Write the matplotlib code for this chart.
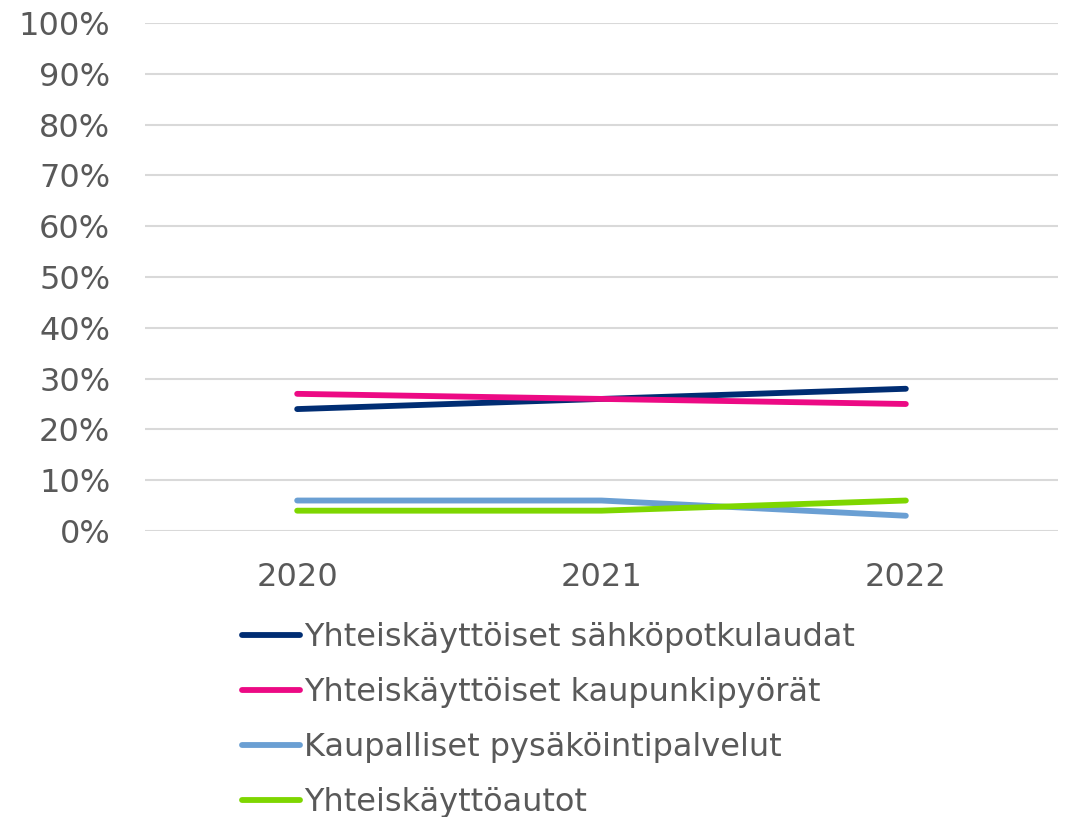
import matplotlib.pyplot as plt
import numpy as np

vuodet = ['2020', '2021', '2022']
sarjat = ['Yhteiskäyttöiset sähköpotkulaudat',
          'Yhteiskäyttöiset kaupunkipyörät',
          'Kaupalliset pysäköintipalvelut',
          'Yhteiskäyttöautot']
potkulaudat = [24, 26, 28]
kaupunkipyorat = [27, 26, 25]
pysakointi = [6, 6, 3]
autot = [4, 4, 6]
varit = ['#002d73', '#ec0a84', '#6a9fd3', '#7ed600']

plt.rcParams['font.family'] = ['DejaVu Sans']
harmaa = '#595959'

fig = plt.figure(figsize=(10.69, 8.17), dpi=100)
ax = fig.add_axes([145/1069, (817-531)/817, (1058-145)/1069, (531-23)/817])

x = np.arange(len(vuodet))
for arvot, nimi, vari in zip([potkulaudat, kaupunkipyorat, pysakointi, autot], sarjat, varit):
    ax.plot(x, np.array(arvot) / 100, color=vari, linewidth=4.2,
            solid_capstyle='round', label=nimi)

ax.set_xlim(-0.5, 2.5)
ax.set_ylim(0, 1)
ax.set_yticks(np.arange(0, 1.01, 0.1))
ax.set_yticklabels([f'{int(round(v*100))}%' for v in np.arange(0, 1.01, 0.1)])
ax.set_xticks(x)
ax.set_xticklabels(vuodet)
ax.tick_params(axis='both', length=0, labelsize=23, colors=harmaa)
ax.tick_params(axis='y', pad=25)
ax.tick_params(axis='x', pad=22)
ax.grid(axis='y', color='#d9d9d9', linewidth=1.5)
ax.set_axisbelow(True)
for s in ax.spines.values():
    s.set_visible(False)

leg = fig.legend(loc='upper left', bbox_to_anchor=(242/1069, (817-622)/817),
                 frameon=False, fontsize=23, handlelength=1.8, handletextpad=0.15,
                 labelspacing=0.75, borderpad=0, borderaxespad=0)
for t in leg.get_texts():
    t.set_color(harmaa)

fig.savefig('out.png', dpi=100)
